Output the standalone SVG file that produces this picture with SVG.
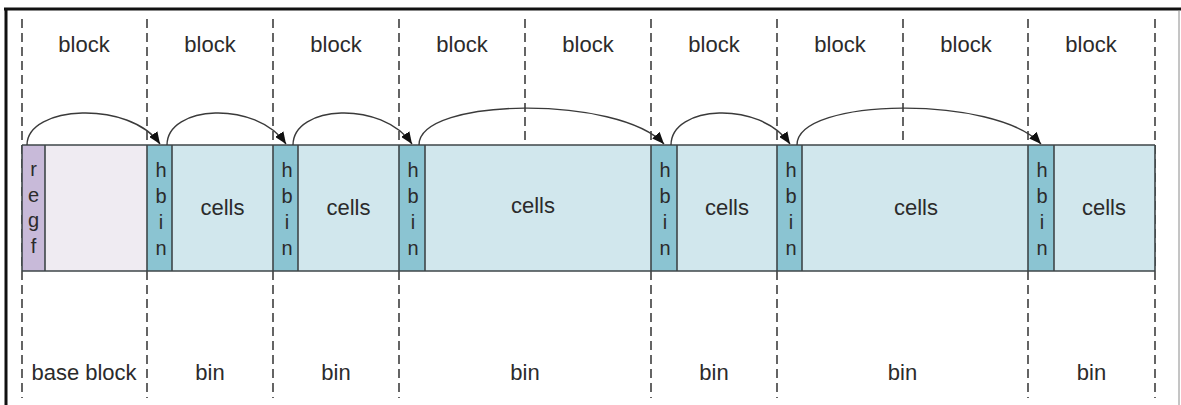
<svg xmlns="http://www.w3.org/2000/svg" width="1181" height="405" viewBox="0 0 1181 405">
  <style>
    text { font-family: "Liberation Sans", Arial, sans-serif; fill: #2b2b2b; text-anchor: middle; }
    .lbl { font-size: 22px; }
    .stk { font-size: 20px; }
    .div { stroke: #4a4a4a; stroke-width: 1.7; stroke-dasharray: 9 5; fill: none; }
    .seg { stroke: #3e4648; stroke-width: 1.6; }
    .regf { fill: #c8bad9; }
    .base { fill: #efebf2; }
    .hbin { fill: #8bc4d2; }
    .cells { fill: #d1e7ed; }
    .arc { fill: none; stroke: #3a3a3a; stroke-width: 1.4; marker-end: url(#head); }
  </style>
  <defs>
    <marker id="head" viewBox="0 0 12 10" refX="12" refY="5" markerWidth="12" markerHeight="10" markerUnits="userSpaceOnUse" orient="auto">
      <path d="M0,0 L12,5 L0,10 Z" fill="#111"/>
    </marker>
  </defs>

  <rect width="1181" height="405" fill="#ffffff"/>

  <!-- frame -->
  <g id="frame">
    <line x1="4" y1="9" x2="1181" y2="9" stroke="#111" stroke-width="3"/>
    <line x1="6" y1="8" x2="6" y2="405" stroke="#111" stroke-width="3"/>
    <line x1="1179" y1="10" x2="1179" y2="405" stroke="#8a8a8a" stroke-width="1"/>
  </g>

  <!-- dashed boundaries: full height at bin edges, top half only between blocks of one bin -->
  <g id="dividers">
    <line class="div" x1="22" y1="19" x2="22" y2="398"/>
    <line class="div" x1="147" y1="19" x2="147" y2="398"/>
    <line class="div" x1="273" y1="19" x2="273" y2="398"/>
    <line class="div" x1="399" y1="19" x2="399" y2="398"/>
    <line class="div" x1="525" y1="19" x2="525" y2="145"/>
    <line class="div" x1="651" y1="19" x2="651" y2="398"/>
    <line class="div" x1="777" y1="19" x2="777" y2="398"/>
    <line class="div" x1="903" y1="19" x2="903" y2="145"/>
    <line class="div" x1="1028" y1="19" x2="1028" y2="398"/>
    <line class="div" x1="1155" y1="19" x2="1155" y2="398"/>
  </g>

  <!-- block labels -->
  <g id="block-labels">
    <text class="lbl" x="84" y="51.5">block</text>
    <text class="lbl" x="210" y="51.5">block</text>
    <text class="lbl" x="336" y="51.5">block</text>
    <text class="lbl" x="462" y="51.5">block</text>
    <text class="lbl" x="588" y="51.5">block</text>
    <text class="lbl" x="714" y="51.5">block</text>
    <text class="lbl" x="840" y="51.5">block</text>
    <text class="lbl" x="966" y="51.5">block</text>
    <text class="lbl" x="1091" y="51.5">block</text>
  </g>

  <!-- base block -->
  <g id="base-block">
    <rect class="regf" x="22" y="145" width="23" height="126"/>
    <rect class="base" x="45" y="145" width="102" height="126"/>
    <line class="seg" x1="45" y1="145" x2="45" y2="271"/>
    <text class="stk" x="33.5" y="176">r</text>
    <text class="stk" x="33.5" y="201.5">e</text>
    <text class="stk" x="33.5" y="227">g</text>
    <text class="stk" x="33.5" y="252.5">f</text>
  </g>

  <!-- bins: header + cells -->
  <g id="bin-1">
    <rect class="hbin" x="147" y="145" width="25" height="126"/>
    <rect class="cells" x="172" y="145" width="101" height="126"/>
    <line class="seg" x1="147" y1="145" x2="147" y2="271"/>
    <line class="seg" x1="172" y1="145" x2="172" y2="271"/>
    <text class="stk" x="161" y="177">h</text>
    <text class="stk" x="161" y="203">b</text>
    <text class="stk" x="161" y="229">i</text>
    <text class="stk" x="161" y="255">n</text>
    <text class="lbl" x="222.5" y="215">cells</text>
  </g>
  <g id="bin-2">
    <rect class="hbin" x="273" y="145" width="25" height="126"/>
    <rect class="cells" x="298" y="145" width="101" height="126"/>
    <line class="seg" x1="273" y1="145" x2="273" y2="271"/>
    <line class="seg" x1="298" y1="145" x2="298" y2="271"/>
    <text class="stk" x="287" y="177">h</text>
    <text class="stk" x="287" y="203">b</text>
    <text class="stk" x="287" y="229">i</text>
    <text class="stk" x="287" y="255">n</text>
    <text class="lbl" x="348.5" y="215">cells</text>
  </g>
  <g id="bin-3">
    <rect class="hbin" x="399" y="145" width="26" height="126"/>
    <rect class="cells" x="425" y="145" width="226" height="126"/>
    <line class="seg" x1="399" y1="145" x2="399" y2="271"/>
    <line class="seg" x1="425" y1="145" x2="425" y2="271"/>
    <text class="stk" x="413" y="177">h</text>
    <text class="stk" x="413" y="203">b</text>
    <text class="stk" x="413" y="229">i</text>
    <text class="stk" x="413" y="255">n</text>
    <text class="lbl" x="533" y="213">cells</text>
  </g>
  <g id="bin-4">
    <rect class="hbin" x="651" y="145" width="26" height="126"/>
    <rect class="cells" x="677" y="145" width="100" height="126"/>
    <line class="seg" x1="651" y1="145" x2="651" y2="271"/>
    <line class="seg" x1="677" y1="145" x2="677" y2="271"/>
    <text class="stk" x="665" y="177">h</text>
    <text class="stk" x="665" y="203">b</text>
    <text class="stk" x="665" y="229">i</text>
    <text class="stk" x="665" y="255">n</text>
    <text class="lbl" x="727" y="215">cells</text>
  </g>
  <g id="bin-5">
    <rect class="hbin" x="777" y="145" width="25" height="126"/>
    <rect class="cells" x="802" y="145" width="226" height="126"/>
    <line class="seg" x1="777" y1="145" x2="777" y2="271"/>
    <line class="seg" x1="802" y1="145" x2="802" y2="271"/>
    <text class="stk" x="791" y="177">h</text>
    <text class="stk" x="791" y="203">b</text>
    <text class="stk" x="791" y="229">i</text>
    <text class="stk" x="791" y="255">n</text>
    <text class="lbl" x="916" y="215">cells</text>
  </g>
  <g id="bin-6">
    <rect class="hbin" x="1028" y="145" width="26" height="126"/>
    <rect class="cells" x="1054" y="145" width="101" height="126"/>
    <line class="seg" x1="1028" y1="145" x2="1028" y2="271"/>
    <line class="seg" x1="1054" y1="145" x2="1054" y2="271"/>
    <text class="stk" x="1042" y="177">h</text>
    <text class="stk" x="1042" y="203">b</text>
    <text class="stk" x="1042" y="229">i</text>
    <text class="stk" x="1042" y="255">n</text>
    <text class="lbl" x="1104" y="215">cells</text>
  </g>

  <!-- strip outline -->
  <g id="strip-outline">
    <line class="seg" x1="22" y1="145" x2="1155" y2="145"/>
    <line class="seg" x1="22" y1="271" x2="1155" y2="271"/>
    <line class="seg" x1="22" y1="145" x2="22" y2="271"/>
    <line class="seg" x1="1155" y1="145" x2="1155" y2="271"/>
  </g>

  <!-- bin chain links -->
  <g id="connectors">
    <path class="arc" d="M27,145 C27,105 130,100 160,144"/>
    <path class="arc" d="M167,145 C167,105 256,100 286,144"/>
    <path class="arc" d="M293,145 C293,105 382,100 412,144"/>
    <path class="arc" d="M419,145 C419,97 619,95 664,144"/>
    <path class="arc" d="M671,145 C671,105 760,100 790,144"/>
    <path class="arc" d="M797,145 C797,97 996,95 1041,144"/>
  </g>

  <!-- span labels -->
  <g id="span-labels">
    <text class="lbl" x="84" y="380">base block</text>
    <text class="lbl" x="210" y="380">bin</text>
    <text class="lbl" x="336" y="380">bin</text>
    <text class="lbl" x="525" y="380">bin</text>
    <text class="lbl" x="714" y="380">bin</text>
    <text class="lbl" x="902.5" y="380">bin</text>
    <text class="lbl" x="1091.5" y="380">bin</text>
  </g>
</svg>
